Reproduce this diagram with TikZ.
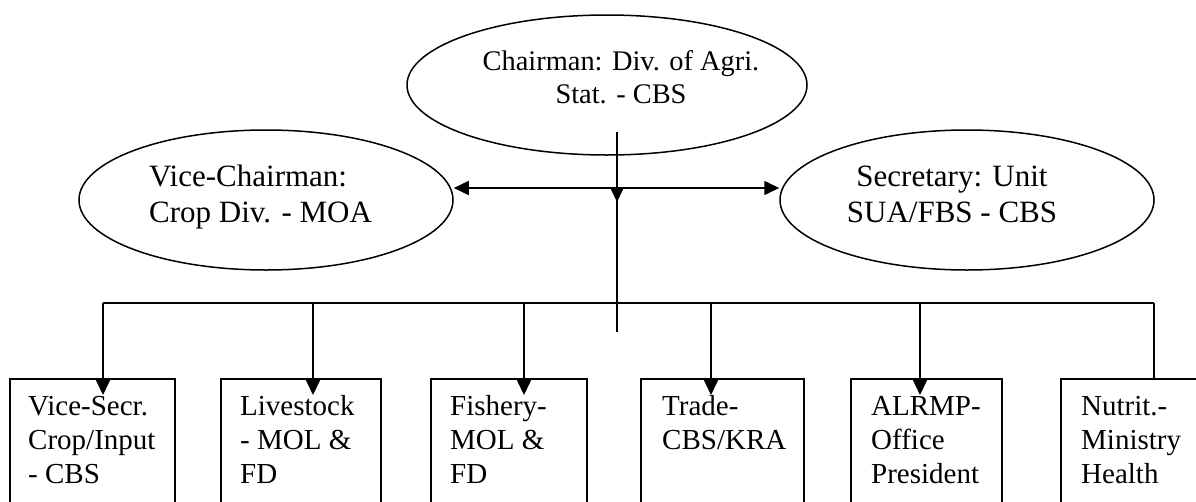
\documentclass[tikz,border=0pt]{standalone}
\usepackage{fontspec}
\setmainfont{Liberation Serif}
\usetikzlibrary{arrows.meta,shapes.geometric}
\tikzset{
  ln/.style={line width=1.5pt},
  arr/.style={ln,-{Triangle[length=15pt,width=14pt]}},
  ell/.style={ellipse,draw,line width=1.5pt,inner sep=0pt},
  boxn/.style={rectangle,draw,line width=1.5pt,inner sep=0pt,anchor=north west},
  txt/.style={inner sep=0pt,font=\fontsize{29}{33.7}\selectfont},
  txtc/.style={inner sep=0pt,font=\fontsize{28.4}{33}\selectfont},
  txts/.style={inner sep=0pt,font=\fontsize{31}{35.2}\selectfont}
}
\begin{document}
\begin{tikzpicture}[x=1pt,y=-1pt]
\clip (0,0) rectangle (1196,501);
\fill[white] (0,0) rectangle (1196,501);
% ellipses
\node[ell,minimum width=400pt,minimum height=140pt] (chair) at (607,85) {};
\node[txtc,align=center,anchor=base] (chairT) at (621,103) {Chairman: Div. of Agri.\\Stat. - CBS};
\node[ell,minimum width=374pt,minimum height=140pt] (vice) at (266,200) {};
\node[txts,align=left,anchor=base west] (viceT) at (149,222) {Vice-Chairman:\\Crop Div. - MOA};
\node[ell,minimum width=374pt,minimum height=140pt] (sec) at (967,200) {};
\node[txts,align=center,anchor=base] (secT) at (952,222) {Secretary: Unit\\SUA/FBS - CBS};
% boxes
\node[boxn,minimum width=165pt,minimum height=200pt] (b1) at (9,378) {};
\node[boxn,minimum width=160pt,minimum height=200pt] (b2) at (220,378) {};
\node[boxn,minimum width=156pt,minimum height=200pt] (b3) at (430,378) {};
\node[boxn,minimum width=163pt,minimum height=200pt] (b4) at (640,378) {};
\node[boxn,minimum width=151pt,minimum height=200pt] (b5) at (850,378) {};
\node[boxn,minimum width=200pt,minimum height=200pt] (b6) at (1060,378) {};
\node[txt,align=left,anchor=base west] (t1) at (28,483) {Vice-Secr.\\Crop/Input\\- CBS};
\node[txt,align=left,anchor=base west] (t2) at (240,483) {Livestock\\- MOL \&\\FD};
\node[txt,align=left,anchor=base west] (t3) at (450,483) {Fishery-\\MOL \&\\FD};
\node[txt,align=left,anchor=base west] (t4) at (662,449.5) {Trade-\\CBS/KRA};
\node[txt,align=left,anchor=base west] (t5) at (871,483) {ALRMP-\\Office\\President};
\node[txt,align=left,anchor=base west] (t6) at (1081,483) {Nutrit.-\\Ministry\\Health};
% connectors
\coordinate (cs) at (617,132);
\coordinate (hub) at (617,188);
\coordinate (ctip) at (617,202);
\coordinate (stem) at (617,332);
\draw[arr] (cs) -- (ctip);
\draw[arr] (hub) -- (hub -| vice.east);
\draw[arr] (hub) -- (hub -| sec.west);
\draw[ln] (hub) -- (stem);
\coordinate (d1) at (103,303);
\coordinate (d2) at (313,303);
\coordinate (d3) at (524,303);
\coordinate (d4) at (711,303);
\coordinate (d5) at (920,303);
\coordinate (d6) at (1154,303);
\draw[ln] (d1) -- (d6);
\coordinate (e1) at (103,395);
\coordinate (e2) at (313,395);
\coordinate (e3) at (524,395);
\coordinate (e4) at (711,395);
\coordinate (e5) at (920,395);
\draw[arr] (d1) -- (e1);
\draw[arr] (d2) -- (e2);
\draw[arr] (d3) -- (e3);
\draw[arr] (d4) -- (e4);
\draw[arr] (d5) -- (e5);
\draw[ln] (d6) -- (d6 |- b6.north);
\end{tikzpicture}
\end{document}
